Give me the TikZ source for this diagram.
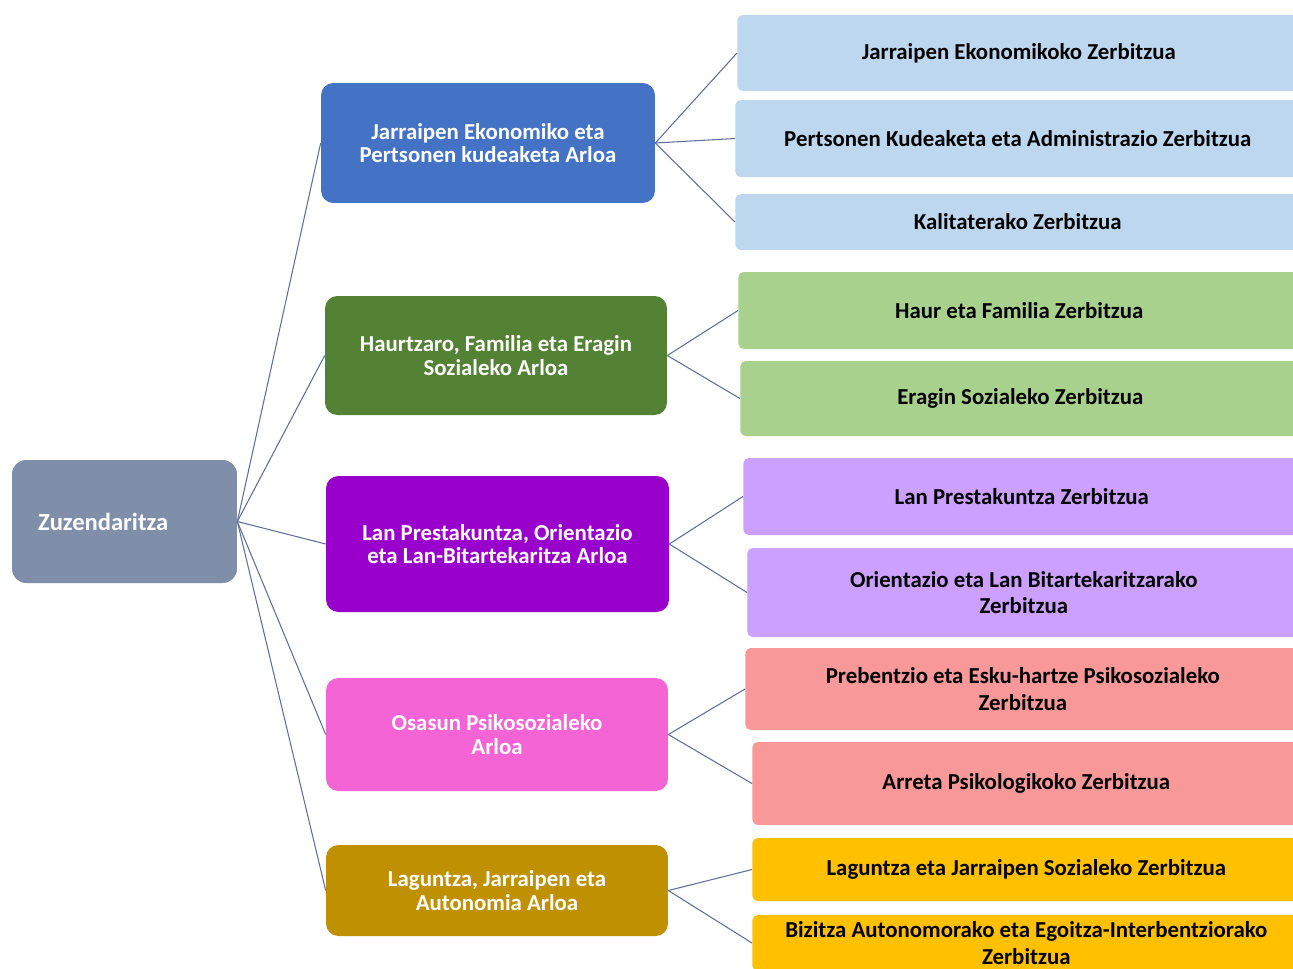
\documentclass[tikz,border=0pt]{standalone}
\usepackage{fontspec}
\setmainfont{Carlito}
\usetikzlibrary{positioning}
\definecolor{rootgray}{RGB}{127,143,169}
\definecolor{areablue}{RGB}{68,114,196}
\definecolor{areagreen}{RGB}{84,130,53}
\definecolor{areapurple}{RGB}{153,0,204}
\definecolor{areapink}{RGB}{244,100,212}
\definecolor{areaolive}{RGB}{191,144,0}
\definecolor{servblue}{RGB}{189,215,238}
\definecolor{servgreen}{RGB}{169,209,142}
\definecolor{servlilac}{RGB}{204,160,255}
\definecolor{servsalmon}{RGB}{248,152,152}
\definecolor{servyellow}{RGB}{255,192,0}
\definecolor{linkgray}{RGB}{95,112,150}
\tikzset{root node/.style={rectangle,rounded corners=8pt,fill=rootgray,text=white,
           font=\fontsize{14}{16}\selectfont\bfseries,inner xsep=0.52cm,
           text width=3.46cm,align=left,minimum height=2.46cm},
         area node/.style={rectangle,rounded corners=7pt,text=white,align=center,
           font=\fontsize{13}{13.5}\selectfont\bfseries,inner sep=2pt},
         serv node/.style={rectangle,rounded corners=3pt,text=black,align=center,anchor=west,
           font=\fontsize{13}{15.3}\selectfont\bfseries,inner sep=2pt},
         link/.style={draw=linkgray,line width=0.6pt},}

\begin{document}
\begin{tikzpicture}[x=0.02cm,y=-0.02cm]
          \clip (0,0) rectangle (1293,968);
          \fill[white] (0,0) rectangle (1293,968);

          \node[root node] (zuz) at (124.5,521.5) {Zuzendaritza};

          \node[area node,fill=areablue,minimum width=6.68cm,minimum height=2.4cm] (a1) at (488,143)
               {Jarraipen Ekonomiko eta\\Pertsonen kudeaketa Arloa};
          \node[area node,fill=areagreen,minimum width=6.84cm,minimum height=2.38cm] (a2) at (496,355.5)
               {Haurtzaro, Familia eta Eragin\\Sozialeko Arloa};
          \node[area node,fill=areapurple,minimum width=6.86cm,minimum height=2.72cm] (a3) at (497.5,544)
               {Lan Prestakuntza, Orientazio\\eta Lan-Bitartekaritza Arloa};
          \node[area node,fill=areapink,minimum width=6.84cm,minimum height=2.26cm] (a4) at (497,734.5)
               {Osasun Psikosozialeko\\Arloa};
          \node[area node,fill=areaolive,minimum width=6.84cm,minimum height=1.82cm] (a5) at (497,890.5)
               {Laguntza, Jarraipen eta\\Autonomia Arloa};

          \node[serv node,fill=servblue,minimum width=11.26cm,minimum height=1.52cm] (s1) at (737,53)
               {Jarraipen Ekonomikoko Zerbitzua};
          \node[serv node,fill=servblue,minimum width=11.3cm,minimum height=1.54cm] (s2) at (735,138.5)
               {Pertsonen Kudeaketa eta Administrazio Zerbitzua};
          \node[serv node,fill=servblue,minimum width=11.3cm,minimum height=1.12cm] (s3) at (735,222)
               {Kalitaterako Zerbitzua};
          \node[serv node,fill=servgreen,minimum width=11.24cm,minimum height=1.54cm] (s4) at (738,310.5)
               {Haur eta Familia Zerbitzua};
          \node[serv node,fill=servgreen,minimum width=11.2cm,minimum height=1.5cm] (s5) at (740,398.5)
               {Eragin Sozialeko Zerbitzua};
          \node[serv node,fill=servlilac,minimum width=11.14cm,minimum height=1.54cm] (s6) at (743,496.5)
               {Lan Prestakuntza Zerbitzua};
          \node[serv node,fill=servlilac,minimum width=11.06cm,minimum height=1.78cm] (s7) at (747,592.5)
               {Orientazio eta Lan Bitartekaritzarako\\Zerbitzua};
          \node[serv node,fill=servsalmon,minimum width=11.1cm,minimum height=1.64cm] (s8) at (745,689)
               {Prebentzio eta Esku-hartze Psikosozialeko\\Zerbitzua};
          \node[serv node,fill=servsalmon,minimum width=10.96cm,minimum height=1.66cm] (s9) at (752,783.5)
               {Arreta Psikologikoko Zerbitzua};
          \node[serv node,fill=servyellow,minimum width=10.96cm,minimum height=1.26cm] (s10) at (752,869.5)
               {Laguntza eta Jarraipen Sozialeko Zerbitzua};
          \node[serv node,fill=servyellow,minimum width=10.96cm,minimum height=1.12cm] (s11) at (752,943)
               {Bizitza Autonomorako eta Egoitza-Interbentziorako\\Zerbitzua};

          \path[link]
          (zuz.east) edge (a1.west)
          (zuz.east) edge (a2.west)
          (zuz.east) edge (a3.west)
          (zuz.east) edge (a4.west)
          (zuz.east) edge (a5.west)
          (a1.east) edge (s1.west)
          (a1.east) edge (s2.west)
          (a1.east) edge (s3.west)
          (a2.east) edge (s4.west)
          (a2.east) edge (s5.west)
          (a3.east) edge (s6.west)
          (a3.east) edge (s7.west)
          (a4.east) edge (s8.west)
          (a4.east) edge (s9.west)
          (a5.east) edge (s10.west)
          (a5.east) edge (s11.west);
        \end{tikzpicture}
\end{document}
